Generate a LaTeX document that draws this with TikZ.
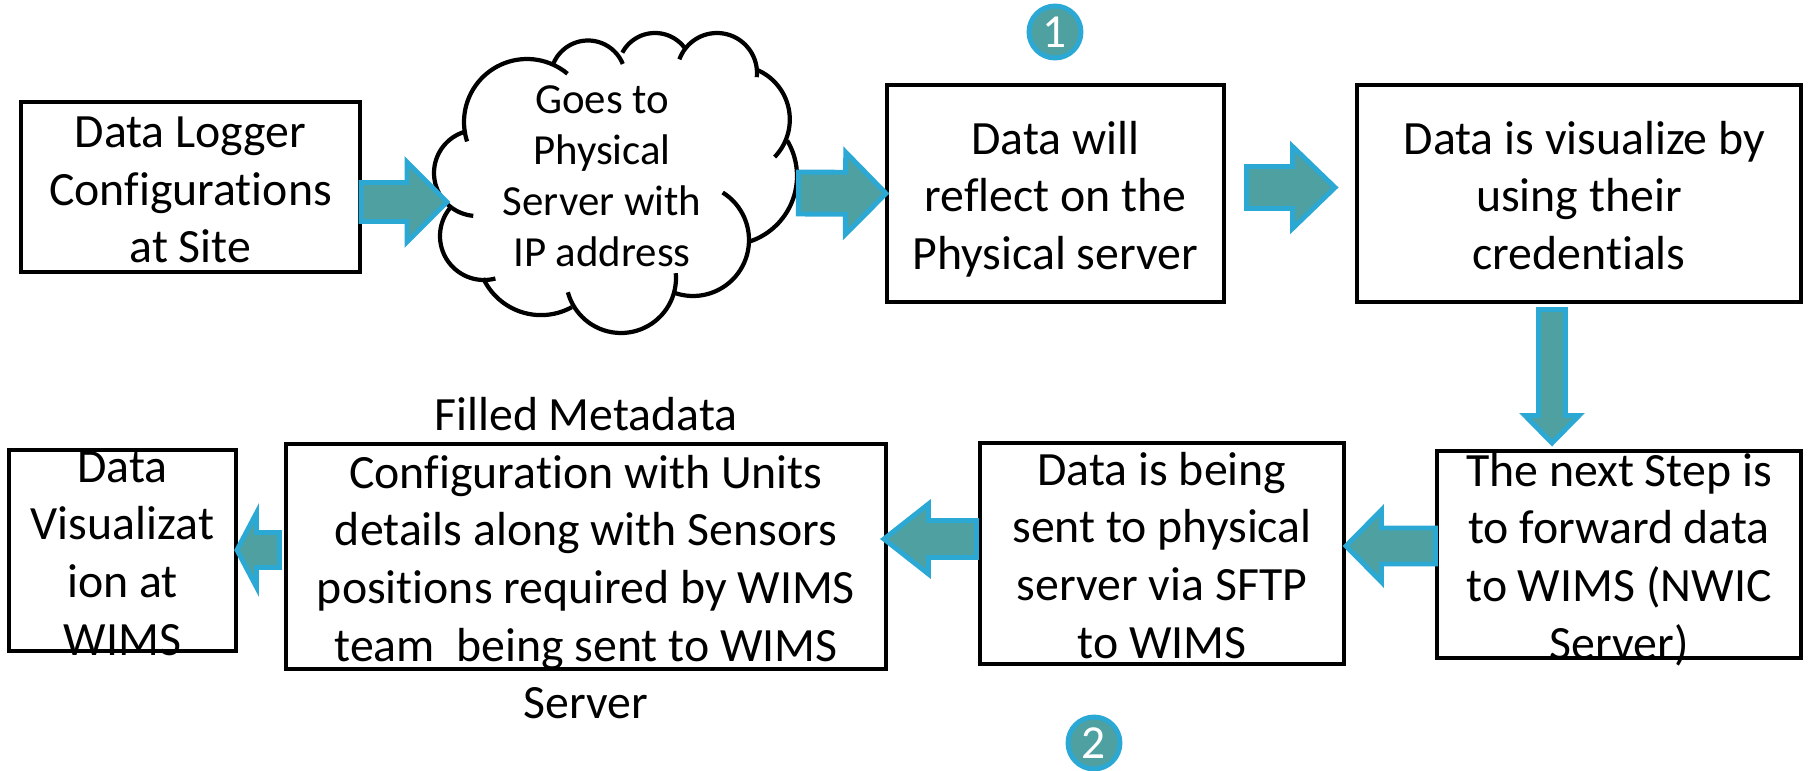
\documentclass[tikz,border=0pt]{standalone}
\usepackage{fontspec}
\setmainfont[Ligatures=NoCommon]{Carlito}
\usetikzlibrary{calc}
\definecolor{arrowfill}{HTML}{4FA0A0}
\definecolor{arrowline}{HTML}{2BA8D4}
\newcommand{\linesbox}[1]{\raisebox{-10pt}[0pt][0pt]{\begin{tabular}{@{}c@{}}#1\end{tabular}}}
\tikzset{
    stepbox/.style={rectangle, draw=black, fill=white, line width=2.5pt, inner sep=0pt, outer sep=0pt,
        font=\fontsize{27.2}{32.8}\selectfont},
    cloudtext/.style={align=center, inner sep=0pt, font=\fontsize{24.4}{29}\selectfont},
    cloudline/.style={draw=black, line width=2.4pt},
    numcircle/.style={circle, draw=arrowline, fill=arrowfill, text=white, line width=2.8pt, inner sep=0pt,
        minimum size=1.04cm, font=\fontsize{27}{30}\selectfont},
    blockarrow/.style n args={3}{draw=arrowline, fill=arrowfill, line width=2.8pt, line join=miter,
        to path={($(\tikztostart)!{#1*0.02cm}!90:(\tikztotarget)$)
            -- ($(\tikztotarget)!{#3*0.02cm}!(\tikztostart)!{#1*0.02cm}!90:(\tikztotarget)$)
            -- ($(\tikztotarget)!{#3*0.02cm}!(\tikztostart)!{#2*0.02cm}!90:(\tikztotarget)$)
            -- (\tikztotarget)
            -- ($(\tikztotarget)!{#3*0.02cm}!(\tikztostart)!{#2*0.02cm}!-90:(\tikztotarget)$)
            -- ($(\tikztotarget)!{#3*0.02cm}!(\tikztostart)!{#1*0.02cm}!-90:(\tikztotarget)$)
            -- ($(\tikztostart)!{#1*0.02cm}!-90:(\tikztotarget)$) -- cycle}}
}
\begin{document}
\begin{tikzpicture}[x=0.02cm, y=-0.02cm]
    \useasboundingbox (0,0) rectangle (1810,771);
    % Define boxes
    \foreach \n/\x/\y/\w/\h/\t in {box1/190.5/187/339/170/{Data Logger\\Configurations\\at Site},
                                   box3/1055.5/193.5/337/217/{Data will\\reflect on the\\Physical server},
                                   box4/1579/193.5/444/217/{\ Data is visualize by\\using their\\credentials},
                                   box5/1619/554.5/364/207/{The next Step is\\to forward data\\to WIMS (NWIC\\Server)},
                                   box6/1162/553.5/364/221/{Data is being\\sent to physical\\server via SFTP\\to WIMS},
                                   box7/586/556.5/600/225/{Filled Metadata\\Configuration with Units\\details along with Sensors\\positions required by WIMS\\team\ \ being sent to WIMS\\Server},
                                   box8/122.5/550.5/227/201/{Data\\Visualizat\\ion at\\WIMS}} {
        \node[stepbox, minimum width=\w*0.02cm, minimum height=\h*0.02cm] (\n) at (\x,\y) {\linesbox{\t}};
    }
    % Draw cloud
    \node[cloudtext] (cloud) at (602,176) {Goes to\\Physical\\Server with\\IP address};
    \foreach \cx/\cy/\r/\sa/\ea in {477/173/43/256/95, 484/236/44/220/75, 541/251.4/63.7/155/61,
                                    621/278/55/165/-5, 693/240/56/110/-58, 728/176/69/72/-31,
                                    735.8/119.5/54/44/-66, 717/73/40/6/-160, 655/70/37/-36/-152,
                                    588/78/37.5/-22/-160, 527/122/63/-50/-198} {
        \draw[cloudline] plot[domain=\sa:\ea, samples=40] ({\cx+\r*cos(\x)},{\cy+\r*sin(\x)});
    }
    % Draw block arrows
    \foreach \a/\da/\b/\db/\s/\m/\l in {box1.east/{1,15}/cloud.center/{-155,26}/19.5/40/40,
                                        cloud.center/{196.5,17}/box3.west/{-1,0}/21/41/40.5,
                                        box3.east/{22.5,-6}/box4.west/{-22,-6}/21/41/42.5,
                                        box4.south/{-27,7.5}/box5.north/{-67,-8}/13.5/27/27.5,
                                        box5.west/{-1.5,-8.5}/box6.east/{2,-7.5}/18/36/35.5,
                                        box6.west/{-3.5,-14.5}/box7.east/{-2,-17.5}/18.5/35/44.5,
                                        box7.west/{-6.5,-6.5}/box8.east/{1,-0.5}/17.5/37/19.5} {
        \draw[blockarrow={\s}{\m}{\l}] ($(\a)+(\da)$) to ($(\b)+(\db)$);
    }
    % Number marks
    \node[numcircle] (num1) at (1055,32) {1};
    \node[numcircle] (num2) at (1094,743) {2};
\end{tikzpicture}
\end{document}
